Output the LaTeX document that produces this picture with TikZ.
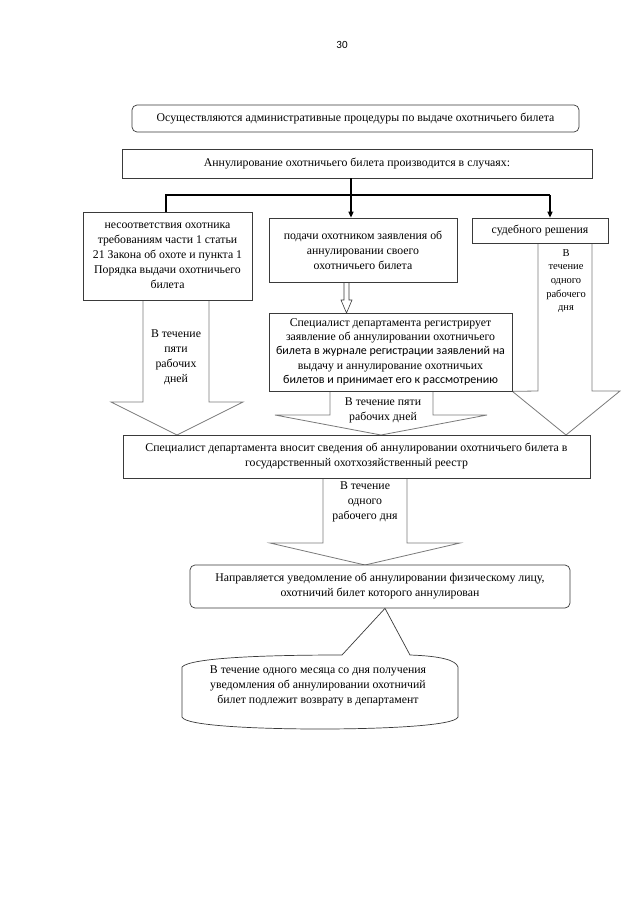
\documentclass[tikz,border=0pt]{standalone}
\usepackage{fontspec}
\setmainfont{Liberation Serif}
\newfontfamily\calibrifont{Carlito}
\usetikzlibrary{arrows.meta, positioning, calc, backgrounds}
\definecolor{cline}{HTML}{3A3A3A}
\definecolor{cgrey}{HTML}{7A7A7A}
\tikzset{
  every picture/.style={line width=0.7pt},
  box/.style={draw=cline, fill=white, align=center, inner sep=0pt, font=\fontsize{11.8}{15}\selectfont},
  rbox/.style={box, rounded corners=5pt},
  link/.style={-{Triangle[length=6pt, width=5pt]}, draw=black, line width=1.3pt},
  fork/.style={draw=black, line width=1.3pt},
  blockarrow/.style={draw=cgrey, fill=white, line width=0.8pt, line join=miter},
  note/.style={align=center, font=\fontsize{11.8}{15}\selectfont},
}

\begin{document}
\begin{tikzpicture}[x=1pt, y=-1pt]
\useasboundingbox (0,0) rectangle (640,905);
  \node[font=\calibrifont\fontsize{11}{12}\selectfont] (page) at (342,45) {30};

  % boxes
  \node[rbox, minimum width=447pt, minimum height=27pt] (proc) at (355.5,118.5) {Осуществляются административные процедуры по выдаче охотничьего билета};
  \node[box, minimum width=470pt, minimum height=29pt] (cases) at (357,163.5) {Аннулирование охотничьего билета производится в случаях:};
  \node[box, minimum width=169pt, minimum height=88pt] (mismatch) at (167.5,256) {несоответствия охотника\\требованиям части 1 статьи\\21 Закона об охоте и пункта 1\\Порядка выдачи охотничьего\\билета};
  \node[box, minimum width=188pt, minimum height=64pt] (request) at (363,250) {подачи охотником заявления об\\аннулировании своего\\охотничьего билета};
  \node[box, minimum width=136pt, minimum height=25pt] (court) at (540,230.5) {судебного решения};
  \node[box, minimum width=243pt, minimum height=78pt, font=\fontsize{11.8}{14.4}\selectfont] (register) at (390.5,352) {Специалист департамента регистрирует\\заявление об аннулировании охотничьего\\{\calibrifont\fontsize{12}{14.4}\selectfont билета в журнале регистрации заявлений на}\\выдачу и аннулирование охотничьих\\{\calibrifont\fontsize{12}{14.4}\selectfont билетов и принимает его к рассмотрению}};
  \node[box, minimum width=467pt, minimum height=43pt] (registry) at (356.5,456.5) {Специалист департамента вносит сведения об аннулировании охотничьего билета в\\государственный охотхозяйственный реестр};
  \node[rbox, minimum width=380pt, minimum height=43pt] (notice) at (380,586.5) {Направляется уведомление об аннулировании физическому лицу,\\охотничий билет которого аннулирован};

  % branching
  \coordinate (fork) at (351,195);
  \coordinate (forkl) at (166,195);
  \coordinate (forkr) at (550,195);
  \draw[fork] (cases.south -| fork) -- (fork);
  \draw[fork] (mismatch.north -| forkl) -- (forkl) -- (forkr);
  \draw[link] (fork) -- (request.north -| fork);
  \draw[link] (forkr) -- (court.north -| forkr);

  % block arrows
  \begin{scope}[on background layer]
    \draw[blockarrow] (143,300) -- (143,402) -- (111,402) -- (177,435) -- (243,402) -- (209,402) -- (209,300);
    \draw[blockarrow] (330,391) -- (330,415) -- (275,415) -- (381,435) -- (487,415) -- (433,415) -- (433,391);
    \draw[blockarrow] (538,243) -- (538,391) -- (register.south east) -- (566,435) -- (620,391) -- (592,391) -- (592,243);
    \draw[blockarrow] (323,478) -- (323,543) -- (270,543) -- (365,565) -- (460,543) -- (407,543) -- (407,478);
    \draw[draw=cline, fill=white, line width=0.6pt] (344,282) -- (344,300) -- (341,300) -- (346.5,313) -- (352,300) -- (349,300) -- (349,282);
  \end{scope}

  \node[note] (fivel) at (176,357) {В течение\\пяти\\рабочих\\дней};
  \node[note] (fivem) at (383,410) {В течение пяти\\рабочих дней};
  \node[note, font=\fontsize{10.5}{13.7}\selectfont] (oner) at (566,281) {В\\течение\\одного\\рабочего\\дня};
  \node[note] (oneb) at (365,502) {В течение\\одного\\рабочего дня};

  % callout
  \draw[draw=cline, fill=white, line width=0.7pt] (182,717) -- (182,667) .. controls (190,658) and (260,655) .. (342,655) -- (notice.south -| 385,0) -- (410,655) .. controls (440,656) and (456,660) .. (458,667) -- (458,717) .. controls (455,726) and (380,729) .. (320,729) .. controls (260,729) and (185,726) .. (182,717) -- cycle;
  \node[note] (return) at (318,686) {В течение одного месяца со дня получения\\уведомления об аннулировании охотничий\\билет подлежит возврату в департамент};
\end{tikzpicture}
\end{document}
